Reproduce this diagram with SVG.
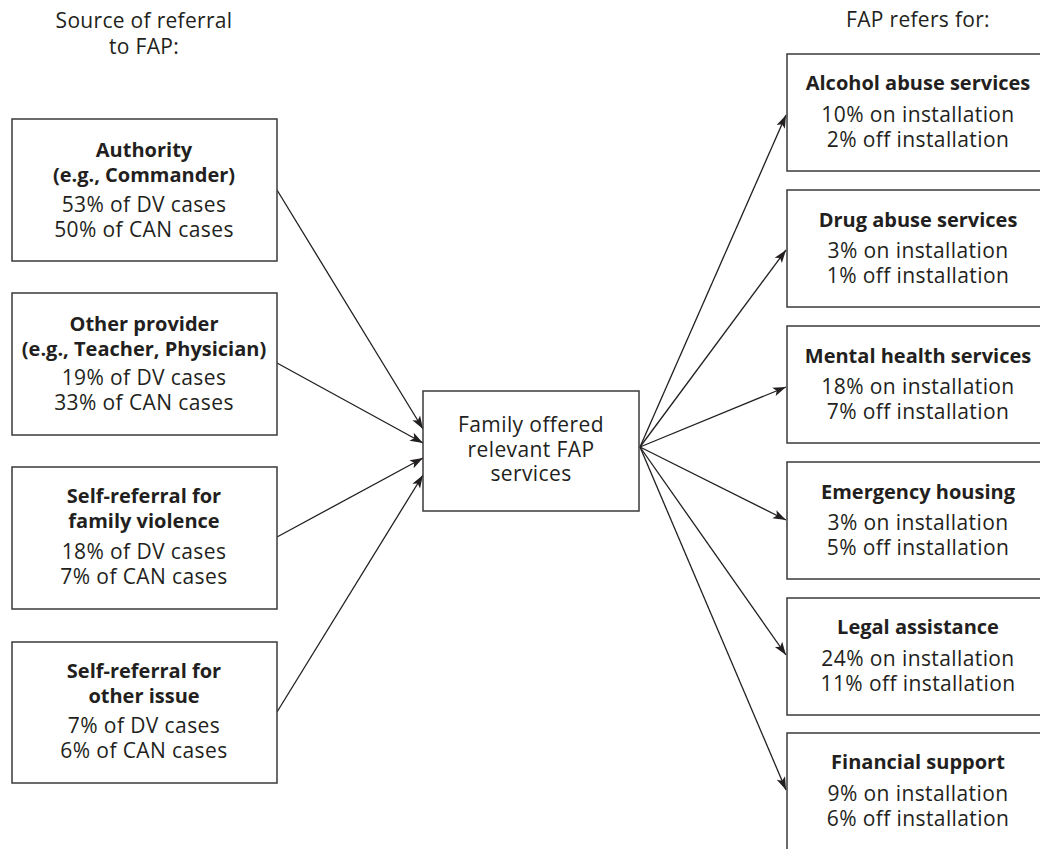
<svg xmlns="http://www.w3.org/2000/svg" width="1040" height="849" viewBox="0 0 1040 849">
<defs>
<style>
.box{fill:#fff;stroke:#3a3a3a;stroke-width:1.5}
text{font-family:"Open Sans","Noto Sans","Liberation Sans",sans-serif;fill:#231f20;text-anchor:middle}
.b{font-weight:bold;font-size:20px}
.r{font-size:21px;letter-spacing:0.4px}
.h{font-size:21px;letter-spacing:0.3px}
.c{stroke:#231f20;stroke-width:1.3;fill:none;marker-end:url(#ah)}
</style>
<marker id="ah" markerUnits="userSpaceOnUse" markerWidth="14" markerHeight="10" refX="13" refY="4.5" orient="auto" overflow="visible">
<path d="M0,0 L13,4.5 L0,9 L3,4.5 z" fill="#231f20"/>
</marker>
</defs>
<rect width="1040" height="849" fill="#fff"/>
<g id="headers">
<text class="h" x="144" y="28">Source of referral</text>
<text class="h" x="144" y="54">to FAP:</text>
<text class="h" x="918" y="27">FAP refers for:</text>
</g>
<g id="connectors">
<line class="c" x1="277" y1="190" x2="423" y2="429"/>
<line class="c" x1="277" y1="363" x2="423" y2="443"/>
<line class="c" x1="277" y1="537" x2="423" y2="458"/>
<line class="c" x1="277" y1="712" x2="423" y2="475"/>
<line class="c" x1="640" y1="447" x2="786" y2="115"/>
<line class="c" x1="640" y1="447" x2="786" y2="250"/>
<line class="c" x1="640" y1="447" x2="786" y2="387"/>
<line class="c" x1="640" y1="447" x2="786" y2="520"/>
<line class="c" x1="640" y1="447" x2="786" y2="655"/>
<line class="c" x1="640" y1="447" x2="786" y2="790"/>
</g>
<g id="authority">
<rect class="box" x="12" y="119" width="265" height="142"/>
<text class="b" x="144" y="157">Authority</text>
<text class="b" x="144" y="182">(e.g., Commander)</text>
<text class="r" x="144" y="212">53% of DV cases</text>
<text class="r" x="144" y="237">50% of CAN cases</text>
</g>
<g id="other-provider">
<rect class="box" x="12" y="293" width="265" height="142"/>
<text class="b" x="144" y="331">Other provider</text>
<text class="b" x="144" y="356">(e.g., Teacher, Physician)</text>
<text class="r" x="144" y="385">19% of DV cases</text>
<text class="r" x="144" y="410">33% of CAN cases</text>
</g>
<g id="self-family">
<rect class="box" x="12" y="467" width="265" height="142"/>
<text class="b" x="144" y="503">Self-referral for</text>
<text class="b" x="144" y="528">family violence</text>
<text class="r" x="144" y="559">18% of DV cases</text>
<text class="r" x="144" y="584">7% of CAN cases</text>
</g>
<g id="self-other">
<rect class="box" x="12" y="642" width="265" height="141"/>
<text class="b" x="144" y="678">Self-referral for</text>
<text class="b" x="144" y="703">other issue</text>
<text class="r" x="144" y="733">7% of DV cases</text>
<text class="r" x="144" y="758">6% of CAN cases</text>
</g>
<g id="center">
<rect class="box" x="423" y="391" width="216" height="120"/>
<text class="r" x="531" y="432">Family offered</text>
<text class="r" x="531" y="457">relevant FAP</text>
<text class="r" x="531" y="481">services</text>
</g>
<g id="alcohol">
<rect class="box" x="787" y="54" width="280" height="117"/>
<text class="b" x="918" y="90">Alcohol abuse services</text>
<text class="r" x="918" y="122">10% on installation</text>
<text class="r" x="918" y="147">2% off installation</text>
</g>
<g id="drug">
<rect class="box" x="787" y="190" width="280" height="117"/>
<text class="b" x="918" y="227">Drug abuse services</text>
<text class="r" x="918" y="258">3% on installation</text>
<text class="r" x="918" y="283">1% off installation</text>
</g>
<g id="mental">
<rect class="box" x="787" y="326" width="280" height="117"/>
<text class="b" x="918" y="363">Mental health services</text>
<text class="r" x="918" y="394">18% on installation</text>
<text class="r" x="918" y="419">7% off installation</text>
</g>
<g id="housing">
<rect class="box" x="787" y="462" width="280" height="117"/>
<text class="b" x="918" y="499">Emergency housing</text>
<text class="r" x="918" y="530">3% on installation</text>
<text class="r" x="918" y="555">5% off installation</text>
</g>
<g id="legal">
<rect class="box" x="787" y="598" width="280" height="117"/>
<text class="b" x="918" y="634">Legal assistance</text>
<text class="r" x="918" y="666">24% on installation</text>
<text class="r" x="918" y="691">11% off installation</text>
</g>
<g id="financial">
<rect class="box" x="787" y="733" width="280" height="140"/>
<text class="b" x="918" y="769">Financial support</text>
<text class="r" x="918" y="801">9% on installation</text>
<text class="r" x="918" y="826">6% off installation</text>
</g>
</svg>
